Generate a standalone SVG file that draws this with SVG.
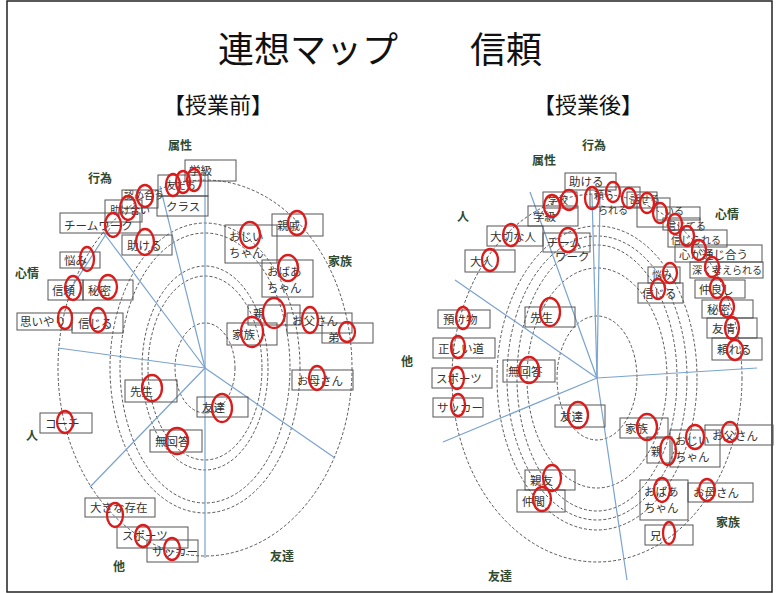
<svg xmlns="http://www.w3.org/2000/svg" width="779" height="593" viewBox="0 0 779 593">
<style>
.t{font-family:"Noto Sans CJK JP","Noto Sans",sans-serif;fill:#111}
.bt{font-family:"Noto Sans CJK JP","Noto Sans",sans-serif;font-size:11.5px;fill:#333}
.sm{font-size:10px}
.cat{font-family:"Noto Sans CJK JP","Noto Sans",sans-serif;font-size:12px;font-weight:bold;fill:#2f4a2f}
.box{fill:none;stroke:#555;stroke-width:1}
.ring{fill:none;stroke:#555;stroke-width:1;stroke-dasharray:3 2}
.ax{stroke:#7aa3cf;stroke-width:1.2;fill:none}
.mk{fill:none;stroke:#d91c1c;stroke-width:2.3}
</style>
<rect x="0" y="0" width="779" height="593" fill="#fff"/>
<rect x="7" y="1" width="765" height="591" fill="none" stroke="#222" stroke-width="1.5"/>
<text class="t" x="218" y="63" font-size="36">連想マップ</text>
<text class="t" x="470" y="63" font-size="36">信頼</text>
<text class="t" x="163" y="113" font-size="22">【授業前】</text>
<text class="t" x="533" y="113" font-size="22">【授業後】</text>

<g id="left-rings">
<ellipse class="ring" cx="205" cy="368" rx="147" ry="188"/>
<ellipse class="ring" cx="205" cy="368" rx="95" ry="145"/>
<ellipse class="ring" cx="205" cy="368" rx="85" ry="135"/>
<ellipse class="ring" cx="205" cy="368" rx="63" ry="102"/>
<ellipse class="ring" cx="205" cy="368" rx="57" ry="92"/>
<ellipse class="ring" cx="205" cy="368" rx="30" ry="45"/>
</g>
<g id="right-rings">
<ellipse class="ring" cx="597" cy="378" rx="145" ry="184"/>
<ellipse class="ring" cx="597" cy="378" rx="100" ry="152"/>
<ellipse class="ring" cx="597" cy="378" rx="90" ry="142"/>
<ellipse class="ring" cx="597" cy="378" rx="80" ry="133"/>
<ellipse class="ring" cx="597" cy="378" rx="70" ry="110"/>
<ellipse class="ring" cx="597" cy="378" rx="40" ry="62"/>
</g>
<g id="connectors">
<line class="ax" x1="205" y1="368" x2="205" y2="172"/>
<line class="ax" x1="205" y1="368" x2="205" y2="558"/>
<line class="ax" x1="205" y1="368" x2="160" y2="186"/>
<line class="ax" x1="205" y1="368" x2="103" y2="232"/>
<line class="ax" x1="110" y1="228" x2="70" y2="290"/>
<line class="ax" x1="205" y1="368" x2="58" y2="348"/>
<line class="ax" x1="205" y1="368" x2="90" y2="487"/>
<line class="ax" x1="205" y1="368" x2="335" y2="458"/>
<line class="ax" x1="597" y1="378" x2="592" y2="195"/>
<line class="ax" x1="597" y1="378" x2="530" y2="192"/>
<line class="ax" x1="597" y1="378" x2="455" y2="280"/>
<line class="ax" x1="597" y1="378" x2="443" y2="442"/>
<line class="ax" x1="597" y1="378" x2="627" y2="580"/>
<line class="ax" x1="597" y1="378" x2="757" y2="368"/>
<line class="ax" x1="597" y1="378" x2="600" y2="195"/>
</g>

<g id="left-categories">
<text class="cat" x="168" y="150">属性</text>
<text class="cat" x="88" y="183">行為</text>
<text class="cat" x="15" y="278">心情</text>
<text class="cat" x="328" y="266">家族</text>
<text class="cat" x="26" y="440" fill="#222">人</text>
<text class="cat" x="113" y="571">他</text>
<text class="cat" x="270" y="561">友達</text>
</g>
<g id="right-categories">
<text class="cat" x="532" y="165">属性</text>
<text class="cat" x="582" y="150">行為</text>
<text class="cat" x="715" y="219">心情</text>
<text class="cat" x="457" y="221" fill="#222">人</text>
<text class="cat" x="401" y="366">他</text>
<text class="cat" x="716" y="527">家族</text>
<text class="cat" x="488" y="581">友達</text>
</g>

<g id="L-gakkyu"><rect class="box" x="185" y="160" width="51" height="21"/><text class="bt" x="189" y="175">学級</text></g>
<g id="L-tomodachi"><rect class="box" x="158" y="175" width="50" height="21"/><text class="bt sm" x="166" y="189">友だち</text></g>
<g id="L-class"><rect class="box" x="157" y="196" width="51" height="20"/><text class="bt" x="166" y="211">クラス</text></g>
<g id="L-mitomeau"><rect class="box" x="122" y="190" width="36" height="18"/><text class="bt sm" x="124" y="198.5">認め合う</text></g>
<g id="L-tasukeai"><rect class="box" x="105" y="200" width="37" height="22"/><text class="bt sm" x="110" y="213.5">助け合い</text></g>
<g id="L-teamwork"><rect class="box" x="60" y="213" width="80" height="20"/><text class="bt" x="64" y="230">チームワーク</text></g>
<g id="L-tasukeru"><rect class="box" x="122" y="235" width="50" height="20"/><text class="bt" x="127" y="250">助ける</text></g>
<g id="L-nayami"><rect class="box" x="60" y="252" width="40" height="16"/><text class="bt" x="64" y="265">悩み</text></g>
<g id="L-shinrai"><rect class="box" x="48" y="280" width="35" height="20"/><text class="bt" x="52" y="295">信頼</text></g>
<g id="L-himitsu"><rect class="box" x="83" y="280" width="50" height="20"/><text class="bt" x="88" y="295">秘密</text></g>
<g id="L-omoiyari"><rect class="box" x="17" y="313" width="55" height="17"/><text class="bt" x="20" y="326">思いやり</text></g>
<g id="L-shinjiru"><rect class="box" x="72" y="313" width="51" height="20"/><text class="bt" x="78" y="328">信じる</text></g>
<g id="L-sensei"><rect class="box" x="125" y="380" width="52" height="22"/><text class="bt" x="130" y="396">先生</text></g>
<g id="L-coach"><rect class="box" x="40" y="413" width="52" height="20"/><text class="bt" x="45" y="428">コーチ</text></g>
<g id="L-mukaito"><rect class="box" x="150" y="430" width="52" height="22"/><text class="bt" x="155" y="446">無回答</text></g>
<g id="L-shinseki"><rect class="box" x="272" y="214" width="51" height="22"/><text class="bt" x="277" y="230">親戚</text></g>
<g id="L-ojiichan"><rect class="box" x="225" y="225" width="52" height="38"/><text class="bt" x="229" y="241">おじい</text><text class="bt" x="229" y="257">ちゃん</text></g>
<g id="L-obaachan"><rect class="box" x="262" y="260" width="51" height="37"/><text class="bt" x="267" y="276">おばあ</text><text class="bt" x="267" y="292">ちゃん</text></g>
<g id="L-oya"><rect class="box" x="248" y="305" width="52" height="20"/><text class="bt" x="253" y="318">親</text></g>
<g id="L-kazoku"><rect class="box" x="227" y="323" width="50" height="22"/><text class="bt" x="232" y="339">家族</text></g>
<g id="L-otousan"><rect class="box" x="287" y="313" width="65" height="20"/><text class="bt" x="292" y="325">お父さん</text></g>
<g id="L-otouto"><rect class="box" x="322" y="323" width="51" height="20"/><text class="bt" x="328" y="342">弟</text></g>
<g id="L-okaasan"><rect class="box" x="292" y="370" width="61" height="20"/><text class="bt" x="297" y="385">お母さん</text></g>
<g id="L-tomodachi2"><rect class="box" x="197" y="397" width="51" height="20"/><text class="bt" x="202" y="412">友達</text></g>
<g id="L-ookina"><rect class="box" x="85" y="498" width="70" height="19"/><text class="bt" x="90" y="512">大きな存在</text></g>
<g id="L-sports"><rect class="box" x="117" y="527" width="71" height="21"/><text class="bt" x="122" y="540">スポーツ</text></g>
<g id="L-soccer"><rect class="box" x="147" y="540" width="51" height="22"/><text class="bt" x="152" y="556">サッカー</text></g>

<g id="R-tasukeru"><rect class="box" x="565" y="173" width="51" height="17"/><text class="bt" x="569" y="186">助ける</text></g>
<g id="R-gakkou"><rect class="box" x="543" y="192" width="34" height="16"/><text class="bt sm" x="548" y="204">学校</text></g>
<g id="R-gakkyu"><rect class="box" x="528" y="206" width="50" height="20"/><text class="bt" x="533" y="221">学級</text></g>
<g id="R-taisetsu"><rect class="box" x="487" y="226" width="56" height="20"/><text class="bt" x="490" y="241">大切な人</text></g>
<g id="R-teamwork"><rect class="box" x="543" y="233" width="47" height="19"/><text class="bt" x="547" y="247">チーム</text><text class="bt" x="555" y="261">ワーク</text></g>
<g id="R-otona"><rect class="box" x="465" y="250" width="50" height="22"/><text class="bt" x="470" y="266">大人</text></g>
<g id="R-tayorareru"><rect class="box" x="590" y="187" width="50" height="20"/><text class="bt sm" x="594" y="199">頼ら</text><text class="bt sm" x="598" y="214">られる</text></g>
<g id="R-hanaseru"><rect class="box" x="627" y="192" width="30" height="16"/><text class="bt sm" x="630" y="203">話せる</text></g>
<g id="R-b3"><rect class="box" x="637" y="198" width="33" height="29"/></g>
<g id="R-iru"><rect class="box" x="657" y="207" width="43" height="13"/><text class="bt sm" x="664" y="214.5">いる</text></g>
<g id="R-shinjiteru"><rect class="box" x="663" y="218" width="37" height="12"/><text class="bt sm" x="666" y="229.5">信じてる</text></g>
<g id="R-shinjirareru"><rect class="box" x="668" y="230" width="59" height="17"/><text class="bt sm" x="671" y="244">信じられる</text></g>
<g id="R-kokoro"><rect class="box" x="675" y="245" width="87" height="17"/><text class="bt" x="679" y="258.5">心が通じ合う</text></g>
<g id="R-fukaku"><rect class="box" x="690" y="262" width="73" height="16"/><text class="bt sm" x="692" y="274">深く考えられる</text></g>
<g id="R-nayami"><rect class="box" x="648" y="267" width="32" height="16"/><text class="bt sm" x="652" y="279">悩み</text></g>
<g id="R-shinjiru"><rect class="box" x="638" y="283" width="45" height="20"/><text class="bt" x="642" y="298">信じる</text></g>
<g id="R-nakayoshi"><rect class="box" x="695" y="280" width="50" height="18"/><text class="bt" x="699" y="294">仲良し</text></g>
<g id="R-himitsu"><rect class="box" x="702" y="300" width="51" height="18"/><text class="bt" x="707" y="314">秘密</text></g>
<g id="R-yujo"><rect class="box" x="707" y="318" width="50" height="20"/><text class="bt" x="712" y="333">友情</text></g>
<g id="R-tayoreru"><rect class="box" x="712" y="338" width="50" height="22"/><text class="bt" x="717" y="354">頼れる</text></g>
<g id="R-azukemono"><rect class="box" x="438" y="310" width="52" height="18"/><text class="bt" x="443" y="324">預け物</text></g>
<g id="R-tadashii"><rect class="box" x="433" y="338" width="62" height="20"/><text class="bt" x="438" y="353">正しい道</text></g>
<g id="R-sports"><rect class="box" x="432" y="368" width="60" height="20"/><text class="bt" x="436" y="383">スポーツ</text></g>
<g id="R-soccer"><rect class="box" x="433" y="398" width="50" height="19"/><text class="bt" x="437" y="412">サッカー</text></g>
<g id="R-sensei"><rect class="box" x="525" y="307" width="50" height="20"/><text class="bt" x="530" y="322">先生</text></g>
<g id="R-mukaito"><rect class="box" x="503" y="360" width="52" height="22"/><text class="bt" x="508" y="376">無回答</text></g>
<g id="R-tomodachi"><rect class="box" x="555" y="405" width="50" height="22"/><text class="bt" x="560" y="421">友達</text></g>
<g id="R-shinyu"><rect class="box" x="525" y="470" width="50" height="20"/><text class="bt" x="530" y="485">親友</text></g>
<g id="R-nakama"><rect class="box" x="517" y="490" width="48" height="22"/><text class="bt" x="522" y="506">仲間</text></g>
<g id="R-kazoku"><rect class="box" x="620" y="418" width="48" height="20"/><text class="bt" x="625" y="433">家族</text></g>
<g id="R-ojiichan"><rect class="box" x="670" y="430" width="50" height="37"/><text class="bt" x="675" y="445">おじい</text><text class="bt" x="675" y="461">ちゃん</text></g>
<g id="R-otousan"><rect class="box" x="705" y="425" width="68" height="20"/><text class="bt" x="712" y="440">お父さん</text></g>
<g id="R-oya"><rect class="box" x="647" y="437" width="25" height="26"/><text class="bt" x="651" y="456">親</text></g>
<g id="R-obaachan"><rect class="box" x="640" y="480" width="48" height="40"/><text class="bt" x="644" y="496">おばあ</text><text class="bt" x="644" y="512">ちゃん</text></g>
<g id="R-okaasan"><rect class="box" x="688" y="483" width="65" height="19"/><text class="bt" x="693" y="497">お母さん</text></g>
<g id="R-ani"><rect class="box" x="645" y="525" width="48" height="20"/><text class="bt" x="650" y="540">兄</text></g>

<g id="marks">
<ellipse class="mk" cx="173" cy="185" rx="7" ry="11"/>
<ellipse class="mk" cx="183" cy="182" rx="7" ry="11"/>
<ellipse class="mk" cx="194" cy="180" rx="7" ry="11"/>
<ellipse class="mk" cx="145" cy="196" rx="8" ry="11"/>
<ellipse class="mk" cx="128" cy="208" rx="8" ry="12"/>
<ellipse class="mk" cx="113" cy="225" rx="8" ry="12"/>
<ellipse class="mk" cx="145" cy="242" rx="9" ry="13"/>
<ellipse class="mk" cx="87" cy="259" rx="7" ry="12"/>
<ellipse class="mk" cx="73" cy="288" rx="8" ry="12"/>
<ellipse class="mk" cx="108" cy="287" rx="9" ry="12"/>
<ellipse class="mk" cx="65" cy="318" rx="7" ry="11"/>
<ellipse class="mk" cx="98" cy="320" rx="8" ry="12"/>
<ellipse class="mk" cx="152" cy="388" rx="10" ry="13"/>
<ellipse class="mk" cx="65" cy="422" rx="8" ry="11"/>
<ellipse class="mk" cx="177" cy="441" rx="11" ry="13"/>
<ellipse class="mk" cx="297" cy="223" rx="9" ry="12"/>
<ellipse class="mk" cx="250" cy="235" rx="10" ry="13"/>
<ellipse class="mk" cx="288" cy="268" rx="10" ry="13"/>
<ellipse class="mk" cx="274" cy="313" rx="11" ry="15"/>
<ellipse class="mk" cx="252" cy="332" rx="11" ry="15"/>
<ellipse class="mk" cx="310" cy="320" rx="8" ry="13"/>
<ellipse class="mk" cx="347" cy="332" rx="8" ry="10"/>
<ellipse class="mk" cx="317" cy="378" rx="8" ry="12"/>
<ellipse class="mk" cx="222" cy="408" rx="10" ry="14"/>
<ellipse class="mk" cx="115" cy="515" rx="8" ry="12"/>
<ellipse class="mk" cx="143" cy="536" rx="8" ry="11"/>
<ellipse class="mk" cx="172" cy="549" rx="8" ry="11"/>

<ellipse class="mk" cx="569" cy="200" rx="8" ry="10"/>
<ellipse class="mk" cx="552" cy="206" rx="8" ry="11"/>
<ellipse class="mk" cx="511" cy="235" rx="8" ry="11"/>
<ellipse class="mk" cx="568" cy="240" rx="9" ry="12"/>
<ellipse class="mk" cx="490" cy="260" rx="8" ry="11"/>
<ellipse class="mk" cx="592" cy="198" rx="7" ry="11"/>
<ellipse class="mk" cx="613" cy="192" rx="7" ry="10"/>
<ellipse class="mk" cx="629" cy="198" rx="7" ry="10"/>
<ellipse class="mk" cx="647" cy="203" rx="7" ry="10"/>
<ellipse class="mk" cx="660" cy="213" rx="7" ry="10"/>
<ellipse class="mk" cx="675" cy="224" rx="7" ry="10"/>
<ellipse class="mk" cx="687" cy="236" rx="7" ry="10"/>
<ellipse class="mk" cx="699" cy="250" rx="7" ry="10"/>
<ellipse class="mk" cx="712" cy="267" rx="7" ry="10"/>
<ellipse class="mk" cx="670" cy="273" rx="7" ry="10"/>
<ellipse class="mk" cx="717" cy="288" rx="7" ry="10"/>
<ellipse class="mk" cx="658" cy="289" rx="7" ry="10"/>
<ellipse class="mk" cx="727" cy="307" rx="7" ry="10"/>
<ellipse class="mk" cx="732" cy="328" rx="7" ry="11"/>
<ellipse class="mk" cx="735" cy="350" rx="8" ry="10"/>
<ellipse class="mk" cx="463" cy="318" rx="7" ry="11"/>
<ellipse class="mk" cx="458" cy="347" rx="7" ry="11"/>
<ellipse class="mk" cx="457" cy="378" rx="7" ry="11"/>
<ellipse class="mk" cx="458" cy="405" rx="7" ry="11"/>
<ellipse class="mk" cx="550" cy="312" rx="10" ry="14"/>
<ellipse class="mk" cx="529" cy="370" rx="10" ry="13"/>
<ellipse class="mk" cx="578" cy="415" rx="10" ry="13"/>
<ellipse class="mk" cx="552" cy="478" rx="9" ry="13"/>
<ellipse class="mk" cx="542" cy="499" rx="9" ry="12"/>
<ellipse class="mk" cx="647" cy="427" rx="10" ry="13"/>
<ellipse class="mk" cx="695" cy="437" rx="9" ry="12"/>
<ellipse class="mk" cx="730" cy="432" rx="8" ry="10"/>
<ellipse class="mk" cx="668" cy="451" rx="8" ry="14"/>
<ellipse class="mk" cx="662" cy="490" rx="8" ry="12"/>
<ellipse class="mk" cx="707" cy="490" rx="8" ry="11"/>
<ellipse class="mk" cx="669" cy="533" rx="6" ry="11"/>
</g>
</svg>
